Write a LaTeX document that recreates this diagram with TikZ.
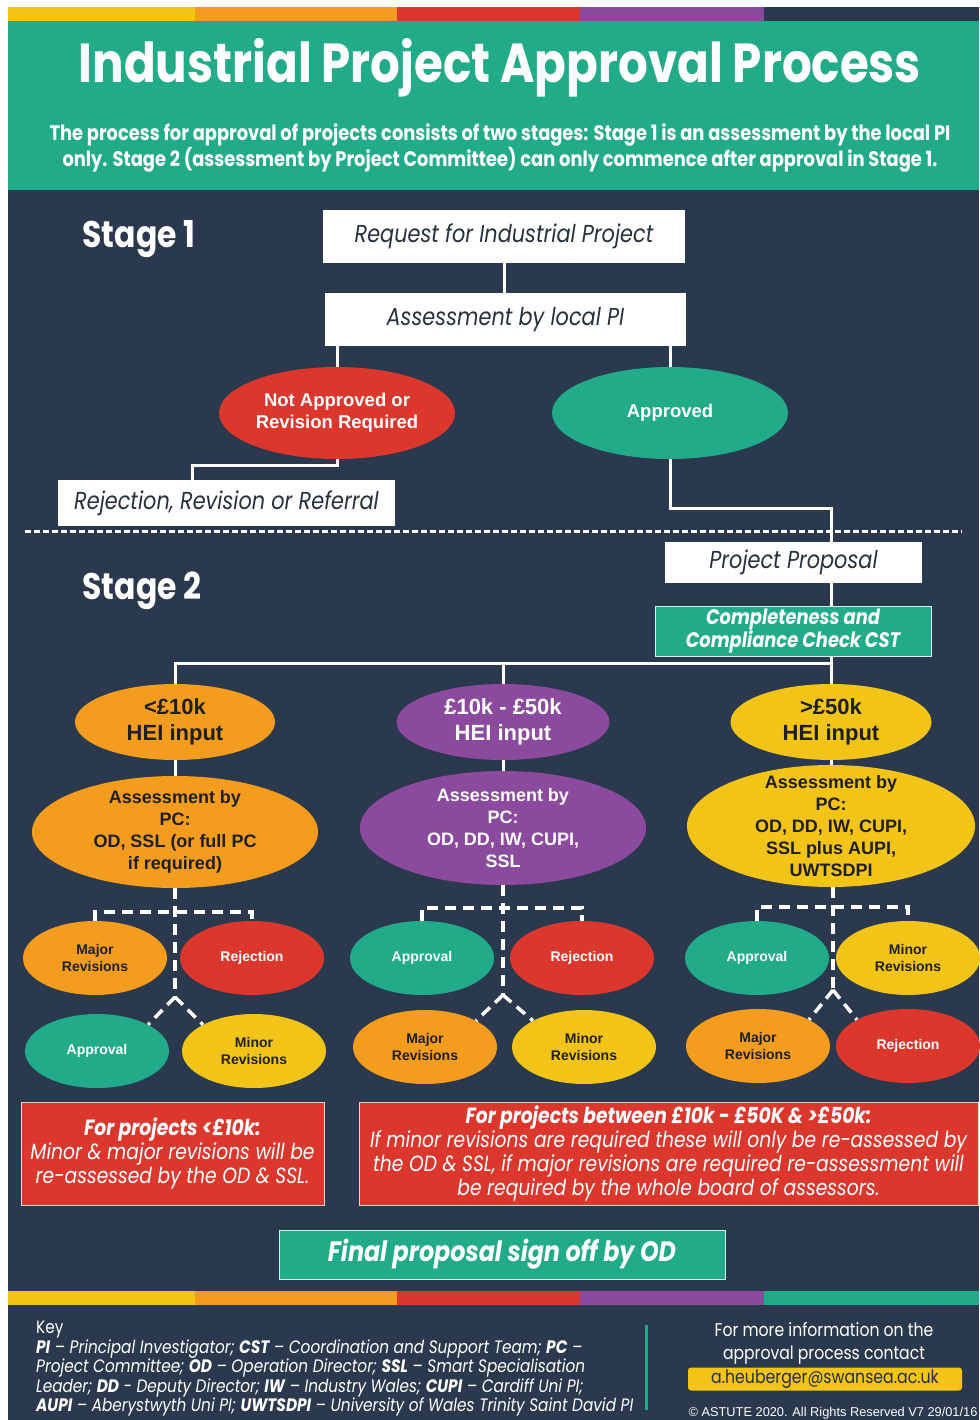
\documentclass[tikz,border=0pt]{standalone}
\usepackage{fontspec}
\setmainfont{Liberation Sans}
\newfontfamily\gothic[FakeStretch=0.85]{Poppins}
\usetikzlibrary{shapes.geometric,positioning}

\begin{document}
\begin{tikzpicture}[x=1pt, y=-1pt,
    link/.style={draw=white, line width=3pt},
    split/.style={draw=white, line width=3.5pt, dash pattern=on 11pt off 7pt},
    stagecut/.style={draw=white, line width=3pt, dash pattern=on 6pt off 3pt},
    card/.style={rectangle, fill=white, text=ink, inner sep=0pt, font=\gothic\itshape\fontsize{24.5}{27}\selectfont},
    oval/.style={ellipse, fill=#1, inner sep=-14pt, align=center},
    ovalbig/.style={font=\bfseries\fontsize{22}{26}\selectfont, minimum height=76},
    ovalmid/.style={font=\bfseries\fontsize{18}{22}\selectfont},
    ovalsmall/.style={font=\bfseries\fontsize{14}{17}\selectfont, minimum width=144, minimum height=74},
    note/.style={rectangle, fill=cRed, draw=black!15, line width=1pt, text=white, align=center, inner sep=0pt, font=\gothic\itshape\fontsize{22}{24}\selectfont},
  ]

    % Colors
    \definecolor{cTeal}{HTML}{21AB89}
    \definecolor{cNavy}{HTML}{2A394D}
    \definecolor{cYellow}{HTML}{F2C417}
    \definecolor{cOrange}{HTML}{F39C1E}
    \definecolor{cRed}{HTML}{DC372D}
    \definecolor{cPurple}{HTML}{8B4A9E}
    \definecolor{ink}{HTML}{26303F}
    \colorlet{darkink}{black!88}

    \useasboundingbox (0,0) rectangle (979,1420);

    %draw the background
    \fill[white] (0,0) rectangle (979,1420);
    \fill[cNavy] (8,7) rectangle (979,1420);
    \fill[cTeal] (8,21) rectangle (979,190);
    \foreach \xa/\xb/\col in {8/195/cYellow, 195/397/cOrange, 397/580/cRed, 580/764/cPurple, 764/979/cNavy}
        \fill[\col] (\xa,7) rectangle (\xb,21);
    \foreach \xa/\xb/\col in {8/195/cYellow, 195/397/cOrange, 397/580/cRed, 580/764/cPurple, 764/979/cTeal}
        \fill[\col] (\xa,1291) rectangle (\xb,1305);

    %header
    \node[font=\gothic\bfseries\fontsize{55}{60}\selectfont, text=white] (title) at (500,68) {Industrial Project Approval Process};
    \node[font=\gothic\bfseries\fontsize{21}{26}\selectfont, text=white, align=center] (intro) at (500,148)
        {The process for approval of projects consists of two stages: Stage 1 is an assessment by the local PI\\
         only. Stage 2 (assessment by Project Committee) can only commence after approval in Stage 1.};

    %stage 1
    \node[font=\gothic\bfseries\fontsize{37}{40}\selectfont, text=white, anchor=west] (stA) at (79,239) {Stage 1};
    \node[card, minimum width=362, minimum height=53] (req) at (504,236.5) {Request for Industrial Project};
    \node[card, minimum width=361, minimum height=53] (ass) at (505.5,319.5) {Assessment by local PI};
    \node[oval=cRed, ovalmid, font=\bfseries\fontsize{18.5}{22}\selectfont, text=white, minimum width=236, minimum height=92] (notap) at (337,413) {Not Approved or\\Revision Required};
    \node[oval=cTeal, ovalmid, font=\bfseries\fontsize{18.5}{22}\selectfont, text=white, minimum width=236, minimum height=92] (appr) at (670,413) {Approved};
    \node[card, minimum width=337, minimum height=46] (rrr) at (226.5,503) {Rejection, Revision or Referral};

    \draw[link] (req.south) -- (req.south |- ass.north);
    \draw[link] (ass.south -| notap) -- (notap.north);
    \draw[link] (ass.south -| appr) -- (appr.north);
    \draw[link] (notap.south) -- ++(0,6) -| ([xshift=-34pt]rrr.north);

    %stage line
    \draw[stagecut] (25,531) -- (962,531);

    %stage 2
    \node[font=\gothic\bfseries\fontsize{37}{40}\selectfont, text=white, anchor=west] (stB) at (79,591) {Stage 2};
    \node[card, minimum width=257, minimum height=41] (prop) at (793.5,562.5) {Project Proposal};
    \node[rectangle, fill=cTeal, draw=white!85!cTeal, line width=1pt, text=white, align=center, inner sep=0pt,
          minimum width=276, minimum height=50, font=\gothic\bfseries\itshape\fontsize{21}{23}\selectfont] (cst) at (793,631)
        {Completeness and\\Compliance Check CST};

    \node[oval=cOrange, ovalbig, text=darkink, minimum width=200] (loA) at (175,722) {<£10k\\HEI input};
    \node[oval=cPurple, ovalbig, text=white, minimum width=213] (midB) at (503,722) {£10k - £50k\\HEI input};
    \node[oval=cYellow, ovalbig, text=darkink, minimum width=201] (hiC) at (831,722) {>£50k\\HEI input};

    \node[oval=cOrange, ovalmid, text=darkink, minimum width=286, minimum height=112] (asA) at (175,832)
        {Assessment by\\PC:\\OD, SSL (or full PC\\if required)};
    \node[oval=cPurple, ovalmid, text=white, minimum width=286, minimum height=114] (asB) at (503,828)
        {Assessment by\\PC:\\OD, DD, IW, CUPI,\\SSL};
    \node[oval=cYellow, ovalmid, text=darkink, minimum width=288, minimum height=122] (asC) at (831,826)
        {Assessment by\\PC:\\OD, DD, IW, CUPI,\\SSL plus AUPI,\\UWTSDPI};

    \draw[link] (appr.south) -- ++(0,49) -| (prop.north -| hiC);
    \draw[link] (prop.south -| hiC) -- (cst.north -| hiC);
    \coordinate (bar) at (831,663);
    \draw[link] (cst.south -| hiC) -- (hiC.north);
    \draw[link] (bar) -- (bar -| loA) -- (loA.north);
    \draw[link] (bar -| midB) -- (midB.north);
    \draw[link] (loA.south) -- (asA.north);
    \draw[link] (midB.south) -- (asB.north);
    \draw[link] (hiC.south) -- (asC.north);

    %outcomes <10k
    \node[oval=cOrange, ovalsmall, text=darkink] (majA) at (95,958) {Major\\Revisions};
    \node[oval=cRed, ovalsmall, text=white] (rejA) at (252,958) {Rejection};
    \node[oval=cTeal, ovalsmall, text=white] (apA) at (97,1051) {Approval};
    \node[oval=cYellow, ovalsmall, text=darkink] (mnA) at (254,1051) {Minor\\Revisions};
    \coordinate (jA) at (175,997);
    \draw[split] (asA.south) -- (jA);
    \draw[split] (majA.north) |- (175,912) -| (rejA.north);
    \draw[split] (jA) -- (apA.north east);
    \draw[split] (jA) -- (mnA.north west);

    %outcomes 10k-50k
    \node[oval=cTeal, ovalsmall, text=white] (apB) at (422,958) {Approval};
    \node[oval=cRed, ovalsmall, text=white] (rejB) at (582,958) {Rejection};
    \node[oval=cOrange, ovalsmall, text=darkink] (majB) at (425,1047) {Major\\Revisions};
    \node[oval=cYellow, ovalsmall, text=darkink] (mnB) at (584,1047) {Minor\\Revisions};
    \coordinate (jB) at (503,995);
    \draw[split] (asB.south) -- (jB);
    \draw[split] (apB.north) |- (503,908) -| (rejB.north);
    \draw[split] (jB) -- (majB.north east);
    \draw[split] (jB) -- (mnB.north west);

    %outcomes >50k
    \node[oval=cTeal, ovalsmall, text=white] (apC) at (757,958) {Approval};
    \node[oval=cYellow, ovalsmall, text=darkink] (mnC) at (908,958) {Minor\\Revisions};
    \node[oval=cOrange, ovalsmall, text=darkink] (majC) at (758,1046) {Major\\Revisions};
    \node[oval=cRed, ovalsmall, text=white] (rejC) at (908,1046) {Rejection};
    \coordinate (jC) at (833,990);
    \draw[split] (asC.south -| jC) -- (jC);
    \draw[split] (apC.north) |- (833,907) -| (mnC.north);
    \draw[split] (jC) -- (majC.north east);
    \draw[split] (jC) -- (rejC.north west);

    %notes
    \node[note, minimum width=303, minimum height=103] (noteA) at (172.5,1153.5)
        {{\bfseries For projects <£10k:}\\Minor \& major revisions will be\\re-assessed by the OD \& SSL.};
    \node[note, minimum width=619, minimum height=103] (noteB) at (668.5,1153.5)
        {{\bfseries For projects between £10k - £50K \& >£50k:}\\
         If minor revisions are required these will only be re-assessed by\\
         the OD \& SSL, if major revisions are required re-assessment will\\
         be required by the whole board of assessors.};
    \node[rectangle, fill=cTeal, draw=white!80!cTeal, line width=1pt, text=white, inner sep=0pt,
          minimum width=446, minimum height=49, font=\gothic\bfseries\itshape\fontsize{28}{30}\selectfont] (final) at (502,1254.5)
        {Final proposal sign off by OD};

    %footer
    \node[anchor=north west, align=left, text=white, inner sep=0pt, font=\gothic\fontsize{18}{19.5}\selectfont] (key) at (36,1321)
        {Key\\
         \itshape\textbf{PI} – Principal Investigator; \textbf{CST} – Coordination and Support Team; \textbf{PC} –\\
         \itshape Project Committee; \textbf{OD} – Operation Director; \textbf{SSL} – Smart Specialisation\\
         \itshape Leader; \textbf{DD} - Deputy Director; \textbf{IW} – Industry Wales; \textbf{CUPI} – Cardiff Uni PI;\\
         \itshape\textbf{AUPI} – Aberystwyth Uni PI; \textbf{UWTSDPI} – University of Wales Trinity Saint David PI};
    \draw[cTeal, line width=3pt] (646,1325) -- (646,1410);
    \node[align=center, text=white, font=\gothic\fontsize{18.4}{23}\selectfont] (info) at (824,1343)
        {For more information on the\\approval process contact};
    \node[rectangle, rounded corners=3pt, fill=cYellow, text=ink, inner sep=0pt, minimum width=274, minimum height=23,
          font=\gothic\fontsize{18.5}{19}\selectfont] (mail) at (825,1379) {a.heuberger@swansea.ac.uk};
    \node[text=white, font=\fontsize{12.8}{14}\selectfont] (copy) at (833,1413) {© ASTUTE 2020. All Rights Reserved V7 29/01/16};

\end{tikzpicture}
\end{document}
